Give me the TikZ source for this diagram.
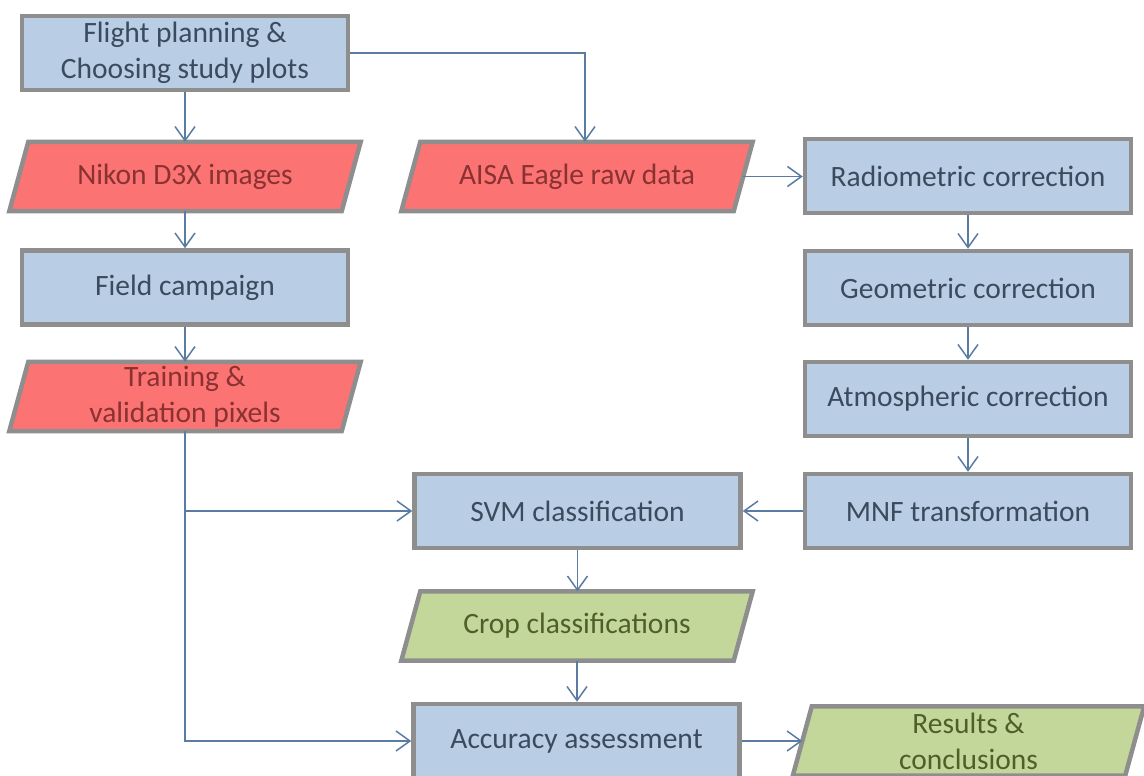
\documentclass[tikz,border=0pt]{standalone}
\usepackage{fontspec}
\setmainfont{Carlito}
\usetikzlibrary{arrows.meta,calc,backgrounds}
\definecolor{boxblue}{HTML}{B9CDE5}
\definecolor{boxred}{HTML}{FC7373}
\definecolor{boxgreen}{HTML}{C4D79B}
\definecolor{framegray}{HTML}{8E8E8E}
\definecolor{txtblue}{HTML}{3B4B5E}
\definecolor{txtred}{HTML}{8A3232}
\definecolor{txtgreen}{HTML}{4F5F2A}
\definecolor{linkblue}{HTML}{5A7CA3}
\begin{document}
\begin{tikzpicture}[x=1pt,y=-1pt,
  every node/.style={font=\fontsize{29.5}{36}\selectfont, align=center, inner sep=0pt},
  procbox/.style={rectangle, draw=framegray, line width=4.5pt, fill=boxblue,
    text=txtblue, minimum width=326pt, minimum height=74pt},
  databox/.style={rectangle, minimum width=332pt, minimum height=69pt},
  reddata/.style={databox, text=txtred},
  greendata/.style={databox, text=txtgreen},
  frame/.style={draw=framegray, line width=4.5pt, line join=miter},
  link/.style={draw=linkblue, line width=1.5pt},
  flow/.style={link, -{Straight Barb[length=14pt,width=20pt]}}]

\useasboundingbox (0,0) rectangle (1144,776);

% left column
\node[procbox]  (plan)  at (185,53)    {Flight planning \&\\Choosing study plots};
\node[reddata]  (nikon) at (185,176.5) {Nikon D3X images};
\node[procbox]  (field) at (185,287.5) {Field campaign};
\node[reddata]  (train) at (185,396.5) {Training \&\\validation pixels};

% middle column
\node[reddata]  (aisa)  at (577,176.5) {AISA Eagle raw data};
\node[procbox]  (svm)   at (577.5,511) {SVM classification};
\node[greendata](crop)  at (577,626)   {Crop classifications};
\node[procbox]  (acc)   at (576.5,741) {Accuracy assessment};

% right column
\node[procbox]  (radio) at (968,176)   {Radiometric correction};
\node[procbox]  (geo)   at (968,288)   {Geometric correction};
\node[procbox]  (atmo)  at (968,399)   {Atmospheric correction};
\node[procbox]  (mnf)   at (968,511)   {MNF transformation};
\node[greendata](res)   at (968.5,741) {Results \&\\conclusions};

% slanted data shapes behind their labels
\begin{scope}[on background layer]
  \fill[white] (0,0) rectangle (1144,776);
  \foreach \n/\c in {nikon/boxred, train/boxred, aisa/boxred, crop/boxgreen, res/boxgreen}
    \draw[frame, fill=\c]
      ($(\n.south west)+(-9.5,0)$) -- ($(\n.north west)+(9.5,0)$) --
      ($(\n.north east)+(9.5,0)$) -- ($(\n.south east)+(-9.5,0)$) -- cycle;
\end{scope}

% connectors
\draw[flow] (plan.south) -- (plan.south |- nikon.north);
\draw[flow] (nikon.south) -- (nikon.south |- field.north);
\draw[flow] (field.south) -- (field.south |- train.north);
\draw[flow] (plan.east) -| ($(aisa.north)+(8,0)$);
\draw[flow] (aisa.east) -- (radio.west |- aisa.east);
\draw[flow] (radio.south) -- (geo.north);
\draw[flow] (geo.south) -- (atmo.north);
\draw[flow] (atmo.south) -- (mnf.north);
\draw[flow] (mnf.west) -- (svm.east);
\draw[flow] (svm.south) -- (svm.south |- crop.north);
\draw[flow] (crop.south) -- (crop.south |- acc.north);
\draw[flow] (acc.east) -- (res.west |- acc.east);
\draw[flow] (train.south) |- (acc.west);
\draw[flow] (train.south |- svm.west) -- (svm.west);
\end{tikzpicture}
\end{document}
